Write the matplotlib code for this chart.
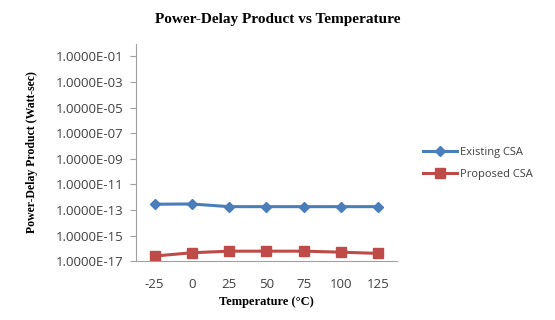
import numpy as np
import matplotlib
matplotlib.use("Agg")
import matplotlib.pyplot as plt

temps = ["-25", "0", "25", "50", "75", "100", "125"]
existing = [2.8e-13, 2.9e-13, 1.8e-13, 1.8e-13, 1.8e-13, 1.8e-13, 1.8e-13]
proposed = [2.5e-17, 4.5e-17, 6.0e-17, 6.0e-17, 6.0e-17, 5.0e-17, 4.0e-17]
ytick_exps = [-17, -15, -13, -11, -9, -7, -5, -3, -1]

fig = plt.figure(figsize=(5.55, 3.2), dpi=100)
ax = fig.add_axes([0.245, 0.184, 0.47, 0.68])

x = np.arange(len(temps))
ax.plot(x, existing, color="#4a7ebb", marker="D", markersize=5, linewidth=2.2, label="Existing CSA")
ax.plot(x, proposed, color="#be4b48", marker="s", markersize=7, linewidth=2.2, label="Proposed CSA")

ax.set_yscale("log")
ax.set_ylim(1e-17, 1e0)
ax.set_xlim(-0.5, len(temps) - 0.5)
ax.set_yticks([10.0 ** e for e in ytick_exps])
ax.set_yticklabels(["1.0000E-%02d" % (-e) for e in ytick_exps])
ax.minorticks_off()
ax.set_xticks(x)
ax.set_xticklabels(temps)

for s in ["top", "right"]:
    ax.spines[s].set_visible(False)
for s in ["left", "bottom"]:
    ax.spines[s].set_color("#a0a0a0")
ax.tick_params(axis="y", length=4, color="#a0a0a0", labelsize=9.5, labelcolor="#404040", pad=5)
ax.tick_params(axis="x", length=0, labelsize=9.5, labelcolor="#404040", pad=12)
for lab in ax.get_xticklabels() + ax.get_yticklabels():
    lab.set_family("Open Sans")

ax.set_xlabel("Temperature (°C)", family="Liberation Serif", fontweight="bold", fontsize=9, labelpad=4)
ax.set_ylabel("Power-Delay Product (Watt-sec)", family="Liberation Serif", fontweight="bold", fontsize=8.5, labelpad=13)
fig.suptitle("Power-Delay Product vs Temperature", family="Liberation Serif", fontweight="bold",
             fontsize=11, y=0.96)

leg = fig.legend(loc="center left", bbox_to_anchor=(0.745, 0.49), frameon=False,
                 prop={"family": "Open Sans", "size": 8}, handlelength=3, handletextpad=0.3,
                 labelspacing=1.0)
for t in leg.get_texts():
    t.set_color("#404040")

fig.savefig("out.png", dpi=100)
